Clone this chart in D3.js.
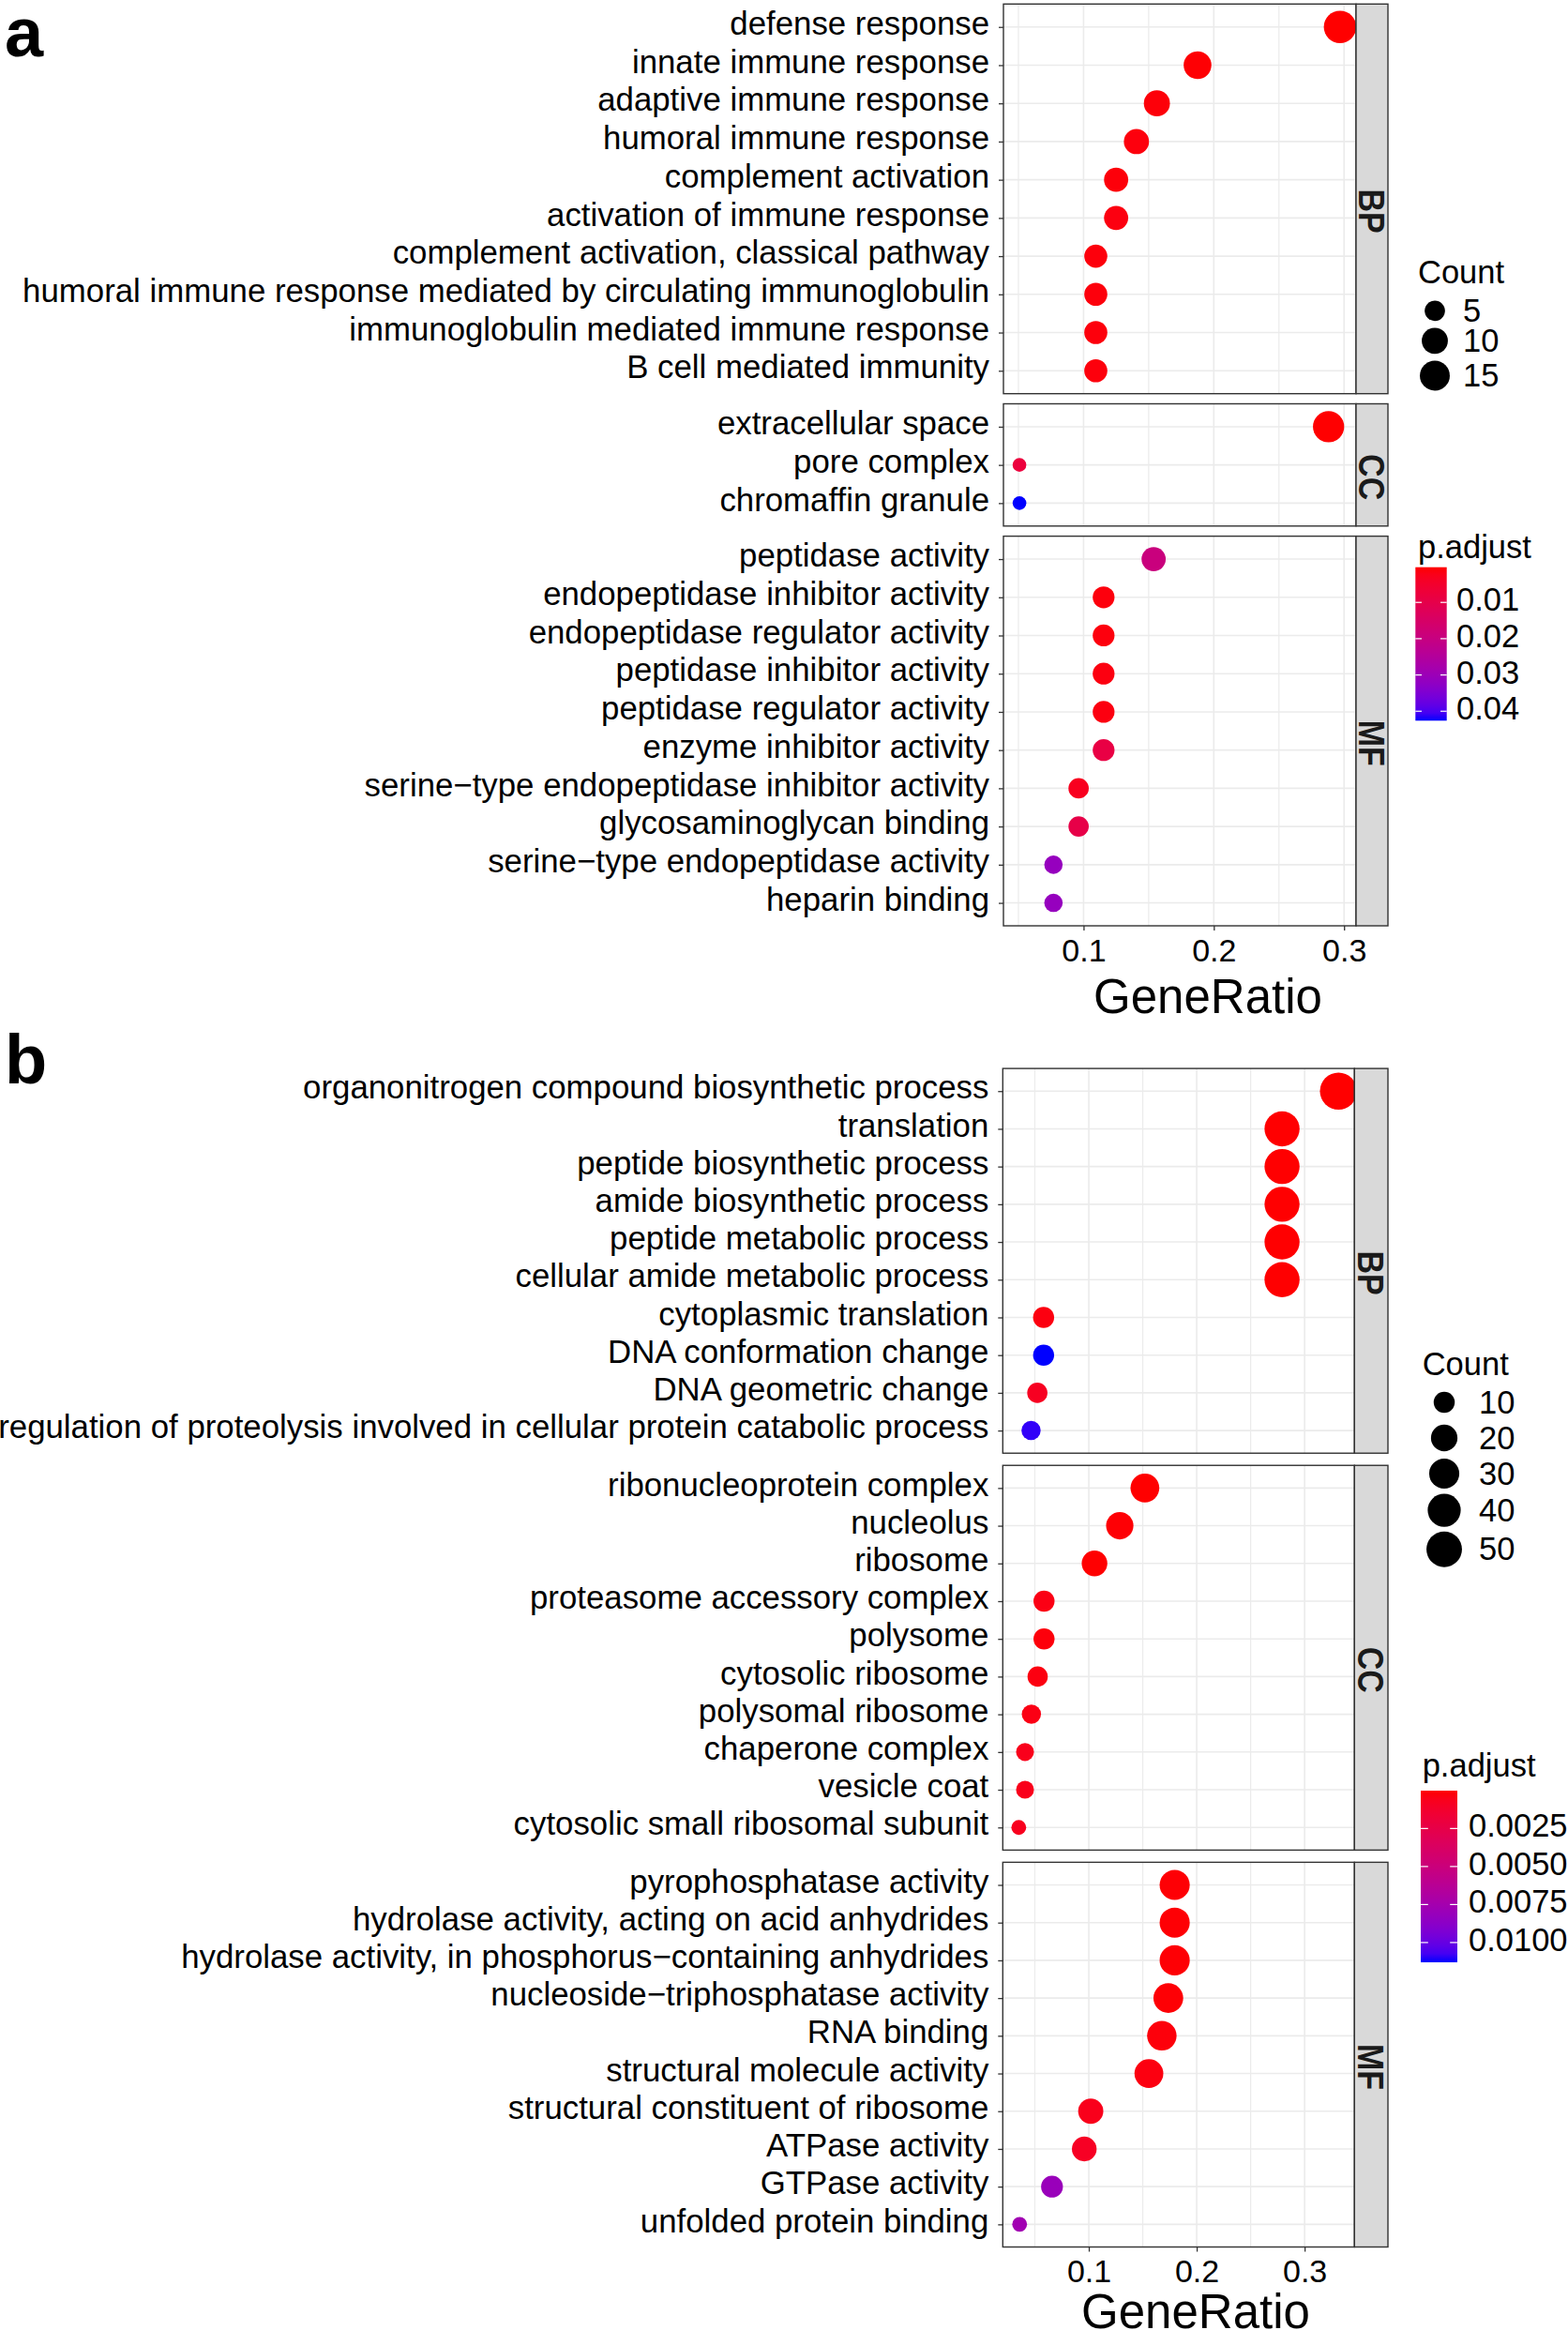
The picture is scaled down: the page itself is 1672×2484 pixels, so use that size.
<!DOCTYPE html>
<html>
<head>
<meta charset="utf-8">
<script src="https://cdn.jsdelivr.net/npm/d3@7"></script>
<style>
  body { margin: 0; background: #fff; }
  svg { display: block; }
  text { font-family: "Liberation Sans", Arial, Helvetica, sans-serif; }
</style>
</head>
<body>
<svg id="chart" width="1672" height="2484"></svg>
<script>
// ================= DATA : panel a =================
const aBPTerms = ["defense response", "innate immune response", "adaptive immune response",
  "humoral immune response", "complement activation", "activation of immune response",
  "complement activation, classical pathway",
  "humoral immune response mediated by circulating immunoglobulin",
  "immunoglobulin mediated immune response", "B cell mediated immunity"];
const aBPRatio = [0.2969, 0.1875, 0.1563, 0.1406, 0.1250, 0.1250, 0.1094, 0.1094, 0.1094, 0.1094];
const aBPCount = [19, 12, 10, 9, 8, 8, 7, 7, 7, 7];
const aBPPadj  = [0.0003, 0.0006, 0.0009, 0.0012, 0.0010, 0.0014, 0.0011, 0.0011, 0.0011, 0.0011];

const aCCTerms = ["extracellular space", "pore complex", "chromaffin granule"];
const aCCRatio = [0.2881, 0.0508, 0.0508];
const aCCCount = [17, 3, 3];
const aCCPadj  = [0.0004, 0.0075, 0.0426];

const aMFTerms = ["peptidase activity", "endopeptidase inhibitor activity",
  "endopeptidase regulator activity", "peptidase inhibitor activity",
  "peptidase regulator activity", "enzyme inhibitor activity",
  "serine\u2212type endopeptidase inhibitor activity", "glycosaminoglycan binding",
  "serine\u2212type endopeptidase activity", "heparin binding"];
const aMFRatio = [0.1538, 0.1154, 0.1154, 0.1154, 0.1154, 0.1154, 0.0962, 0.0962, 0.0769, 0.0769];
const aMFCount = [8, 6, 6, 6, 6, 6, 5, 5, 4, 4];
const aMFPadj  = [0.0193, 0.0012, 0.0012, 0.0014, 0.0014, 0.0088, 0.0030, 0.0095, 0.0312, 0.0312];

const aSizeBreaks = [5, 10, 15];
const aColorBreaks = [0.01, 0.02, 0.03, 0.04];
const aColorLabels = ["0.01", "0.02", "0.03", "0.04"];

// ================= DATA : panel b =================
const bBPTerms = ["organonitrogen compound biosynthetic process", "translation",
  "peptide biosynthetic process", "amide biosynthetic process", "peptide metabolic process",
  "cellular amide metabolic process", "cytoplasmic translation", "DNA conformation change",
  "DNA geometric change",
  "regulation of proteolysis involved in cellular protein catabolic process"];
const bBPRatio = [0.3314, 0.2791, 0.2791, 0.2791, 0.2791, 0.2791, 0.0581, 0.0581, 0.0523, 0.0465];
const bBPCount = [57, 48, 48, 48, 48, 48, 10, 10, 9, 8];
const bBPPadj  = [0.00001, 0.00002, 0.00002, 0.00002, 0.00003, 0.00003, 0.0003, 0.0113, 0.0008, 0.0110];

const bCCTerms = ["ribonucleoprotein complex", "nucleolus", "ribosome",
  "proteasome accessory complex", "polysome", "cytosolic ribosome", "polysomal ribosome",
  "chaperone complex", "vesicle coat", "cytosolic small ribosomal subunit"];
const bCCRatio = [0.1520, 0.1287, 0.1053, 0.0585, 0.0585, 0.0526, 0.0468, 0.0409, 0.0409, 0.0351];
const bCCCount = [26, 22, 18, 10, 10, 9, 8, 7, 7, 6];
const bCCPadj  = [0.00001, 0.0001, 0.00002, 0.0004, 0.0002, 0.0003, 0.0004, 0.0006, 0.0006, 0.0007];

const bMFTerms = ["pyrophosphatase activity", "hydrolase activity, acting on acid anhydrides",
  "hydrolase activity, in phosphorus\u2212containing anhydrides",
  "nucleoside\u2212triphosphatase activity", "RNA binding", "structural molecule activity",
  "structural constituent of ribosome", "ATPase activity", "GTPase activity",
  "unfolded protein binding"];
const bMFRatio = [0.1796, 0.1796, 0.1796, 0.1737, 0.1677, 0.1557, 0.1018, 0.0958, 0.0659, 0.0359];
const bMFCount = [30, 30, 30, 29, 28, 26, 17, 16, 11, 6];
const bMFPadj  = [0.0001, 0.0001, 0.0001, 0.0001, 0.0002, 0.0003, 0.0006, 0.0009, 0.0081, 0.0077];

const bSizeBreaks = [10, 20, 30, 40, 50];
const bColorBreaks = [0.0025, 0.005, 0.0075, 0.01];
const bColorLabels = ["0.0025", "0.0050", "0.0075", "0.0100"];

// ================= LAYOUT =================
const FONT_LABEL = 34.8, FONT_TICK = 34, FONT_TITLE = 51, FONT_LEG = 34.5, FONT_STRIP = 34;

const cfgA = {
  tag: "a", tagBase: 60,
  left: 1070, right: 1446, stripW: 34, top: 4.3, bottom: 987, gap: 10.8,
  tickLabelPad: 8.7, titleX: 1288, titleBase: 1080,
  rMin: 7.3, rMax: 17.3,
  sizeBreaks: aSizeBreaks, colorBreaks: aColorBreaks, colorLabels: aColorLabels,
  leg: { x0: 1512, countBase: 301.6, firstKey: 331.3, keyX: 1530, keyLabelX: 1560,
         keyPad: 7.3, keyMin: 0,
         pBase: 594.5, barX: 1509.3, barW: 33.4, barTop: 604.7, barH: 163.6, barLabelX: 1553 }
};
const cfgB = {
  tag: "b", tagBase: 1155,
  left: 1069.3, right: 1444.3, stripW: 35.7, top: 1139.1, bottom: 2395.5, gap: 13,
  tickLabelPad: 8.7, titleX: 1275, titleBase: 2482,
  rMin: 7.9, rMax: 19.8,
  sizeBreaks: bSizeBreaks, colorBreaks: bColorBreaks, colorLabels: bColorLabels,
  leg: { x0: 1516.7, countBase: 1465.8, firstKey: 1495, keyX: 1540, keyLabelX: 1577,
         keyPad: 5, keyMin: 38,
         pBase: 1894, barX: 1515, barW: 39, barTop: 1909, barH: 183, barLabelX: 1566 }
};

const facetsA = [
  { name: "BP", terms: aBPTerms, ratio: aBPRatio, count: aBPCount, padj: aBPPadj },
  { name: "CC", terms: aCCTerms, ratio: aCCRatio, count: aCCCount, padj: aCCPadj },
  { name: "MF", terms: aMFTerms, ratio: aMFRatio, count: aMFCount, padj: aMFPadj }
];
const facetsB = [
  { name: "BP", terms: bBPTerms, ratio: bBPRatio, count: bBPCount, padj: bBPPadj },
  { name: "CC", terms: bCCTerms, ratio: bCCRatio, count: bCCCount, padj: bCCPadj },
  { name: "MF", terms: bMFTerms, ratio: bMFRatio, count: bMFCount, padj: bMFPadj }
];

const svg = d3.select("#chart");
svg.append("rect").attr("width", 1672).attr("height", 2484).attr("fill", "#fff");
const defs = svg.append("defs");

function drawFigure(cfg, facets) {
  const g = svg.append("g");
  const allRatio = facets.flatMap(f => f.ratio);
  const allCount = facets.flatMap(f => f.count);
  const allP = facets.flatMap(f => f.padj);

  // x scale with ggplot-like 5% expansion
  const [r0, r1] = d3.extent(allRatio);
  const ex = (r1 - r0) * 0.05;
  const x = d3.scaleLinear().domain([r0 - ex, r1 + ex]).range([cfg.left, cfg.right]);

  // size scale (area-like)
  const [c0, c1] = d3.extent(allCount);
  const sizeT = d3.scaleLinear().domain([c0, c1]).range([0, 1]).clamp(true);
  const rScale = d3.scaleLinear().domain([0, 1]).range([cfg.rMin, cfg.rMax]);
  const radius = c => rScale(Math.sqrt(sizeT(c)));

  // colour scale
  const color = d3.scaleLinear().domain(d3.extent(allP))
    .range(["#FF0000", "#0000FF"]).interpolate(d3.interpolateLab);

  const major = x.ticks(3);
  const st = major[1] - major[0];
  const minor = d3.range(major[0] - st / 2, x.domain()[1], st)
    .filter(v => v >= x.domain()[0] && !major.some(m => Math.abs(m - v) < 1e-9));

  const units = facets.map(f => f.terms.length - 1 + 1.2);
  const step = (cfg.bottom - cfg.top - cfg.gap * (facets.length - 1)) / d3.sum(units);

  let yTop = cfg.top;
  facets.forEach((f, i) => {
    const h = units[i] * step;
    const y = d3.scalePoint().domain(f.terms).range([yTop, yTop + h]).padding(0.6);
    const pg = g.append("g");

    pg.append("rect").attr("x", cfg.left).attr("y", yTop)
      .attr("width", cfg.right - cfg.left).attr("height", h).attr("fill", "#fff");

    pg.selectAll("line.minor").data(minor).join("line").attr("class", "minor")
      .attr("x1", d => x(d)).attr("x2", d => x(d)).attr("y1", yTop).attr("y2", yTop + h)
      .attr("stroke", "#EBEBEB").attr("stroke-width", 1.2);
    pg.selectAll("line.majx").data(major).join("line").attr("class", "majx")
      .attr("x1", d => x(d)).attr("x2", d => x(d)).attr("y1", yTop).attr("y2", yTop + h)
      .attr("stroke", "#EBEBEB").attr("stroke-width", 1.6);
    pg.selectAll("line.majy").data(f.terms).join("line").attr("class", "majy")
      .attr("x1", cfg.left).attr("x2", cfg.right).attr("y1", d => y(d)).attr("y2", d => y(d))
      .attr("stroke", "#EBEBEB").attr("stroke-width", 1.6);

    const pts = f.terms.map((t, j) => ({ t, ratio: f.ratio[j], count: f.count[j], p: f.padj[j] }));
    pg.selectAll("circle").data(pts).join("circle")
      .attr("cx", d => x(d.ratio)).attr("cy", d => y(d.t))
      .attr("r", d => radius(d.count)).attr("fill", d => color(d.p));

    pg.append("rect").attr("x", cfg.left).attr("y", yTop)
      .attr("width", cfg.right - cfg.left).attr("height", h)
      .attr("fill", "none").attr("stroke", "#333333").attr("stroke-width", 1.4);

    // y axis
    const ya = pg.append("g").attr("transform", `translate(${cfg.left},0)`)
      .call(d3.axisLeft(y).tickSize(5).tickSizeOuter(0).tickPadding(10));
    ya.select(".domain").remove();
    ya.selectAll(".tick line").attr("stroke", "#333333").attr("stroke-width", 1.3);
    ya.selectAll(".tick text").attr("font-size", FONT_LABEL).attr("fill", "#000")
      .attr("font-family", "Liberation Sans, Arial, sans-serif").attr("dy", "0.22em");

    // strip
    pg.append("rect").attr("x", cfg.right).attr("y", yTop)
      .attr("width", cfg.stripW).attr("height", h)
      .attr("fill", "#D9D9D9").attr("stroke", "#333333").attr("stroke-width", 1.4);
    const sx = cfg.right + cfg.stripW / 2, sy = yTop + h / 2 + 13;
    pg.append("text")
      .attr("transform", `translate(${sx},${sy}) rotate(90) scale(1,1.15)`)
      .attr("text-anchor", "middle").attr("dy", "0.36em")
      .attr("font-size", FONT_STRIP).attr("font-weight", "bold").attr("fill", "#1A1A1A")
      .text(f.name);

    yTop += h + cfg.gap;
  });

  // x axis
  const xa = g.append("g").attr("transform", `translate(0,${cfg.bottom})`)
    .call(d3.axisBottom(x).tickValues(major).tickFormat(d3.format(".1f"))
      .tickSize(5).tickSizeOuter(0).tickPadding(cfg.tickLabelPad));
  xa.select(".domain").remove();
  xa.selectAll(".tick line").attr("stroke", "#333333").attr("stroke-width", 1.3);
  xa.selectAll(".tick text").attr("font-size", FONT_TICK).attr("fill", "#000")
    .attr("font-family", "Liberation Sans, Arial, sans-serif");

  g.append("text").attr("x", cfg.titleX).attr("y", cfg.titleBase)
    .attr("text-anchor", "middle").attr("font-size", FONT_TITLE).attr("fill", "#000")
    .text("GeneRatio");

  // tag
  g.append("text").attr("x", 5).attr("y", cfg.tagBase)
    .attr("font-size", 74).attr("font-weight", "bold").attr("fill", "#000").text(cfg.tag);

  // ---- legends ----
  const L = cfg.leg;
  g.append("text").attr("x", L.x0).attr("y", L.countBase)
    .attr("font-size", FONT_LEG).attr("fill", "#000").text("Count");
  const keyH = r => Math.max(2 * r + L.keyPad, L.keyMin);
  let cy = L.firstKey, prevH = null;
  const keys = cfg.sizeBreaks.map(b => {
    const r = radius(b), hh = keyH(r);
    if (prevH !== null) cy += (prevH + hh) / 2;
    prevH = hh;
    return { b, r, cy };
  });
  g.selectAll("circle.key").data(keys).join("circle").attr("class", "key")
    .attr("cx", L.keyX).attr("cy", d => d.cy).attr("r", d => d.r).attr("fill", "#000");
  g.selectAll("text.keylab").data(keys).join("text").attr("class", "keylab")
    .attr("x", L.keyLabelX).attr("y", d => d.cy).attr("dy", "0.34em")
    .attr("font-size", FONT_LEG).attr("fill", "#000").text(d => d.b);

  g.append("text").attr("x", L.x0).attr("y", L.pBase)
    .attr("font-size", FONT_LEG).attr("fill", "#000").text("p.adjust");

  const gid = "grad-" + cfg.tag;
  const grad = defs.append("linearGradient").attr("id", gid)
    .attr("x1", 0).attr("y1", 0).attr("x2", 0).attr("y2", 1);
  const dom = color.domain();
  d3.range(0, 1.0001, 0.05).forEach(t => {
    grad.append("stop").attr("offset", t).attr("stop-color", color(dom[0] + t * (dom[1] - dom[0])));
  });
  g.append("rect").attr("x", L.barX).attr("y", L.barTop).attr("width", L.barW).attr("height", L.barH)
    .attr("fill", `url(#${gid})`);
  const cb = d3.scaleLinear().domain(dom).range([L.barTop, L.barTop + L.barH]);
  const tl = L.barW / 5;
  g.selectAll("line.cbl").data(cfg.colorBreaks).join("line").attr("class", "cbl")
    .attr("x1", L.barX).attr("x2", L.barX + tl).attr("y1", d => cb(d)).attr("y2", d => cb(d))
    .attr("stroke", "#fff").attr("stroke-width", 1.2);
  g.selectAll("line.cbr").data(cfg.colorBreaks).join("line").attr("class", "cbr")
    .attr("x1", L.barX + L.barW - tl).attr("x2", L.barX + L.barW).attr("y1", d => cb(d)).attr("y2", d => cb(d))
    .attr("stroke", "#fff").attr("stroke-width", 1.2);
  g.selectAll("text.cblab").data(cfg.colorBreaks).join("text").attr("class", "cblab")
    .attr("x", L.barLabelX).attr("y", d => cb(d)).attr("dy", "0.26em")
    .attr("font-size", FONT_LEG).attr("fill", "#000")
    .text((d, i) => cfg.colorLabels[i]);
}

drawFigure(cfgA, facetsA);
drawFigure(cfgB, facetsB);
</script>
</body>
</html>
